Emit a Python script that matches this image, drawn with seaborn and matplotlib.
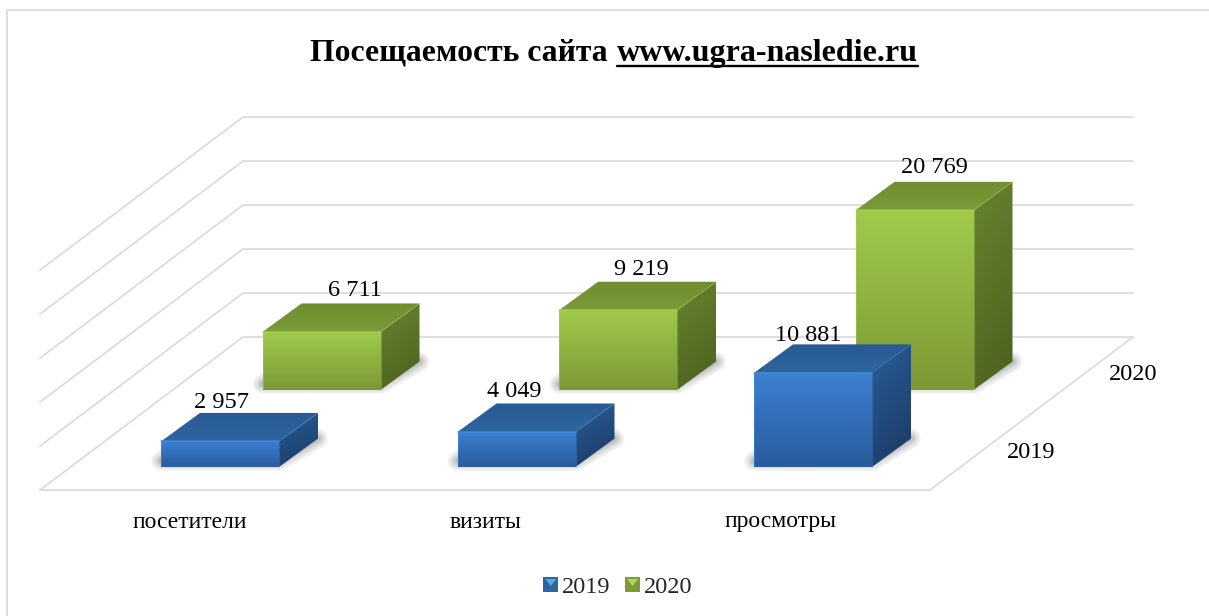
#!/usr/bin/python3

# libraries
import matplotlib
matplotlib.use('Agg')

import matplotlib.pyplot as plt
import numpy as np
import pandas as pd
import seaborn as sns
from matplotlib.colors import LinearSegmentedColormap
from matplotlib.legend_handler import HandlerBase
from matplotlib.patches import Patch, Polygon

# ------------------------------------------------------------
#     Data
# ------------------------------------------------------------

categories = ["посетители", "визиты", "просмотры"]
years = ["2019", "2020"]
values_2019 = [2957, 4049, 10881]
values_2020 = [6711, 9219, 20769]
grid_values = [0, 5000, 10000, 15000, 20000, 25000]
title_plain = "Посещаемость сайта"
title_link = "www.ugra-nasledie.ru"

# ------------------------------------------------------------
#     Settings
# ------------------------------------------------------------

W, H = 1209, 616
cat_px = 296.5      # distance between categories
x0_px = 220.0       # centre of the first front bar
base_px = 467.0     # baseline of the front row
val_px = 0.00865    # pixels for one visitor
wall_scale = 1.017  # back wall is a little bigger than the bar faces

row_dx = 101.5      # second row against first row, pixels
row_dy = 77.0
depth_dx = 39.0     # depth of a bar
depth_dy = 28.5
bar_width = 118.0 / cat_px

line_col = "#dcdcdc"
blue = dict(front=("#3c80d2", "#2a5c9e"), side=("#2a5c98", "#1a3a63"), top=("#295a96", "#2e659f"),
            edge="#4a8ddb", base="#3a78c4")
green = dict(front=("#a0ca4b", "#7c9936"), side=("#67862f", "#4b5f1f"), top=("#6f8e30", "#7a9b38"),
             edge="#a9d252", base="#8fb53f")

label_shift_2019 = [1, -2, -5]
label_shift_2020 = [33, 23, 20]
label_gap_2019 = [10, 12, 9]
label_gap_2020 = [13, 12, 14]
cat_label_px = [189.5, 485, 781]


def to_x(px):
    return (px - x0_px) / cat_px


def to_y(py):
    return (base_px - py) / val_px


def fmt(v):
    return f"{v:,}".replace(",", " ")


# Gradient filled polygon, imshow clipped to the shape
def paint(ax, pts, cols, z, diag=False):
    pts = np.array(pts)
    xs, ys = pts[:, 0], pts[:, 1]
    u, v = np.meshgrid(np.linspace(0, 1, 32), np.linspace(0, 1, 32))
    grad = (1 - v) * 0.75 + u * 0.25 if diag else 1 - v
    cmap = LinearSegmentedColormap.from_list("g", [cols[0], cols[1]])
    im = ax.imshow(grad, extent=(xs.min(), xs.max(), ys.min(), ys.max()), origin="lower",
                   aspect="auto", cmap=cmap, vmin=0, vmax=1, zorder=z, interpolation="bilinear")
    clip = Polygon(pts, closed=True, transform=ax.transData, fc="none", ec="none")
    ax.add_patch(clip)
    im.set_clip_path(clip)


# Soft shadow on the floor, just stacked transparent outlines
def floor_shadow(ax, x, w, bottom, z):
    dx, dy = depth_dx / cat_px, depth_dy / val_px
    lift = 6 / val_px
    pts = [(x, bottom + lift), (x + w, bottom + lift), (x + w + dx, bottom + dy), (x + dx, bottom + dy)]
    for lw in [14, 11, 8, 6, 4, 2]:
        ax.add_patch(Polygon(pts, closed=True, fc="#444444", ec="#444444", lw=lw, alpha=0.07,
                             joinstyle="round", zorder=z))


def draw_row(ax, cats, vals, row, pal, z):
    dx, dy = depth_dx / cat_px, depth_dy / val_px
    off = row * row_dx / cat_px
    bottom = row * row_dy / val_px
    df = pd.DataFrame({"pos": [i + off for i in range(len(cats))], "value": vals})
    n_before = len(ax.patches)
    sns.barplot(data=df, x="pos", y="value", native_scale=True, width=bar_width, color=pal["base"],
                saturation=1, errorbar=None, ax=ax, zorder=z + 3, linewidth=0)
    bars = ax.patches[n_before:]
    for p in bars:
        p.set_y(bottom)
        x, w, h = p.get_x(), p.get_width(), p.get_height()
        floor_shadow(ax, x, w, bottom, z)
        top = bottom + h
        # side face, top face, front face
        paint(ax, [(x + w, bottom), (x + w + dx, bottom + dy), (x + w + dx, top + dy), (x + w, top)],
              pal["side"], z + 1, diag=True)
        paint(ax, [(x, top), (x + w, top), (x + w + dx, top + dy), (x + dx, top + dy)],
              pal["top"], z + 1)
        paint(ax, [(x, bottom), (x + w, bottom), (x + w, top), (x, top)], pal["front"], z + 4)
        # bevel
        ax.plot([x, x + w], [top, top], color=pal["edge"], lw=1.2, alpha=0.7, zorder=z + 5)
        ax.plot([x, x], [bottom, top], color=pal["edge"], lw=0.8, alpha=0.45, zorder=z + 5)
        ax.plot([x + w, x + w], [bottom, top], color=pal["edge"], lw=0.8, alpha=0.35, zorder=z + 5)
        ax.plot([x + w, x + w + dx], [top, top + dy], color=pal["edge"], lw=0.8, alpha=0.3, zorder=z + 5)


# Little legend square with the lighter triangle at the top
class BevelSquare(HandlerBase):
    def create_artists(self, legend, orig, xd, yd, width, height, fontsize, trans):
        s = min(width, height)
        x, y = -xd, -yd
        dark, light = orig.bevel
        sq = Polygon([(x, y), (x + s, y), (x + s, y + s), (x, y + s)], closed=True, fc=dark, ec="none", transform=trans)
        tri = Polygon([(x + 0.12 * s, y + 0.88 * s), (x + 0.88 * s, y + 0.88 * s), (x + 0.5 * s, y + 0.4 * s)],
                      closed=True, fc=light, ec="none", transform=trans)
        return [sq, tri]


# ------------------------------------------------------------
#     Plot
# ------------------------------------------------------------

sns.set_theme(style="white")
plt.rcParams['font.family'] = ['Liberation Serif', 'DejaVu Serif']

fig = plt.figure(figsize=(W / 100, H / 100), dpi=100)
ax = fig.add_axes([0, 0, 1, 1])

# Outer frame
ax.plot([to_x(7), to_x(7), to_x(W)], [to_y(H), to_y(10), to_y(10)], color=line_col, lw=1.3, zorder=1)

# Walls and floor
for g in grid_values:
    y_front = to_y(490) + g * wall_scale
    y_back = to_y(337) + g * wall_scale
    ax.plot([to_x(40), to_x(243), to_x(1133)], [y_front, y_back, y_back], color=line_col,
            lw=1.3, zorder=1, solid_joinstyle="miter")
ax.plot([to_x(40), to_x(930), to_x(1133)], [to_y(490), to_y(490), to_y(337)], color=line_col, lw=1.3, zorder=1)

# Back row first, the front row covers it
draw_row(ax, categories, values_2020, 1, green, 10)
draw_row(ax, categories, values_2019, 0, blue, 20)

# Limits have to be fixed before the title is measured
ax.set_xlim(to_x(0), to_x(W))
ax.set_ylim(to_y(H), to_y(0))
ax.axis("off")

# Value labels, sitting above the back edge of the top face
for i, v in enumerate(values_2019):
    ax.text(i + label_shift_2019[i] / cat_px, v + (depth_dy + label_gap_2019[i]) / val_px, fmt(v),
            ha="center", va="center", fontsize=17.5, color="black", zorder=40)
for i, v in enumerate(values_2020):
    ax.text(i + (row_dx + label_shift_2020[i]) / cat_px,
            v + (row_dy + depth_dy + label_gap_2020[i]) / val_px, fmt(v),
            ha="center", va="center", fontsize=17.5, color="black", zorder=40)

# Axis labels
for c, xp in zip(categories, cat_label_px):
    ax.text(to_x(xp), to_y(522), c, ha="center", va="center", fontsize=17, color="black")
ax.text(to_x(1031), to_y(452), years[0], ha="center", va="center", fontsize=17.5, color="black")
ax.text(to_x(1133), to_y(375), years[1], ha="center", va="center", fontsize=17.5, color="black")

# Title, second part is underlined
ax.text(to_x(608), to_y(53), title_plain, ha="right", va="center", fontsize=22.8, fontweight="bold", color="black")
link = ax.text(to_x(617), to_y(53), title_link, ha="left", va="center", fontsize=23.05, fontweight="bold", color="black")
fig.canvas.draw()
bb = link.get_window_extent()
ax.plot([to_x(bb.x0), to_x(bb.x1)], [to_y(66), to_y(66)], color="black", lw=1.7, zorder=40)

# Legend
h_2019 = Patch(facecolor=blue["base"], label=years[0])
h_2019.bevel = ("#2f659f", "#58a6e8")
h_2020 = Patch(facecolor=green["base"], label=years[1])
h_2020.bevel = ("#7c9a36", "#b2d65c")
ax.legend(handles=[h_2019, h_2020], handler_map={Patch: BevelSquare()}, ncol=2, frameon=False, fontsize=17.5,
          loc="center", bbox_to_anchor=(618 / W, 1 - 587 / H), handlelength=0.6, handleheight=0.6,
          handletextpad=0.17, columnspacing=0.6, borderpad=0, borderaxespad=0)

fig.savefig("out.png", dpi=100, facecolor="white")
